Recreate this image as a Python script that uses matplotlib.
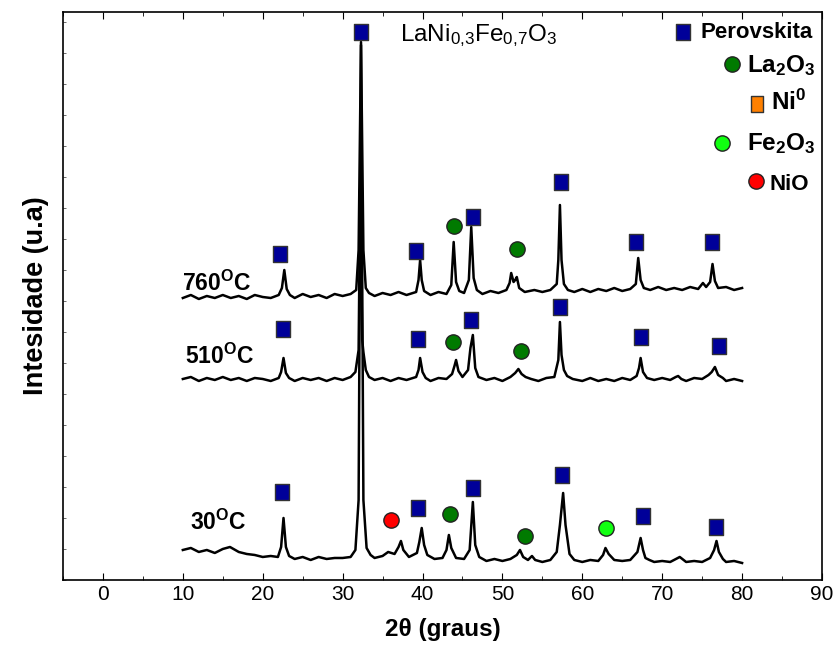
import matplotlib
matplotlib.use("Agg")
import matplotlib.pyplot as plt
from matplotlib.path import Path
from matplotlib.ticker import MultipleLocator

plt.rcParams['font.family'] = ['Liberation Sans', 'DejaVu Sans']
plt.rcParams['mathtext.fontset'] = 'custom'
plt.rcParams['mathtext.rm'] = 'Liberation Sans'
plt.rcParams['mathtext.bf'] = 'Liberation Sans:bold'
plt.rcParams['mathtext.it'] = 'Liberation Sans:italic'

# 2theta (graus) / intensidade (u.a, already stacked)
x_760 = [10, 11, 12, 13, 14, 15, 16, 17, 18, 19, 20, 21, 22.0, 22.4, 22.7, 23.0, 23.4,
         24, 25, 26, 27, 28, 29, 30, 31, 31.7, 32.0, 32.3, 32.6, 32.9, 33.3,
         34, 35, 36, 37, 38, 39.2, 39.5, 39.7, 39.9, 40.2,
         41, 42, 43, 43.6, 43.9, 44.2, 44.6, 45.2, 45.8, 46.1, 46.4, 46.8,
         47.5, 48.5, 49.5, 50.5, 50.9, 51.1, 51.4, 51.6, 51.8, 52.1, 52.8,
         54, 55, 56, 56.8, 57.0, 57.2, 57.4, 57.7, 58.2,
         59, 60, 61, 62, 63, 64, 65, 66, 66.7, 67.0, 67.3, 67.7,
         68.5, 69.5, 70.5, 71.5, 72.5, 73.5, 74.5, 75.1, 75.5, 76.0, 76.3, 76.6, 77,
         78, 79, 80]
y_760 = [282, 285, 281, 284, 282, 285, 282, 284, 281, 285, 283, 282, 285, 292, 310, 291, 285,
         282, 286, 283, 285, 282, 286, 284, 286, 290, 330, 538, 330, 292, 287,
         284, 287, 285, 288, 285, 288, 300, 320, 300, 289,
         285, 288, 286, 295, 338, 298, 289, 287, 300, 353, 302, 290,
         286, 289, 287, 290, 297, 307, 298, 300, 303, 292, 288,
         290, 288, 290, 296, 320, 375, 320, 296, 290,
         288, 291, 288, 291, 289, 292, 289, 291, 296, 322, 300, 292,
         290, 293, 290, 292, 290, 293, 291, 297, 293, 298, 316, 299, 292,
         293, 290, 292]

x_510 = [10, 11, 12, 13, 14, 15, 16, 17, 18, 19, 20, 21, 22.0, 22.3, 22.6, 22.9, 23.3,
         24, 25, 26, 27, 28, 29, 30, 31, 31.6, 32.0, 32.2, 32.45, 32.6, 32.9, 33.3,
         34, 35, 36, 37, 38, 39.2, 39.5, 39.7, 40.0, 40.4,
         41, 42, 43, 43.7, 44.0, 44.2, 44.5, 45.0, 45.7, 46.0, 46.3, 46.6, 47.0,
         48, 49, 50, 51, 51.6, 52.0, 52.4, 52.9, 53.6,
         54.5, 55.5, 56.5, 57.0, 57.2, 57.4, 57.7, 58.1, 58.8,
         60, 61, 62, 63, 64, 65, 66, 66.8, 67.1, 67.3, 67.6, 68.1,
         69, 70, 71, 71.7, 72.0, 72.4, 73, 74, 75, 75.8, 76.2, 76.6, 77.0, 77.6,
         78, 79, 80]
y_510 = [201, 203, 199, 202, 200, 203, 200, 202, 199, 202, 201, 199, 202, 208, 222, 207, 202,
         199, 202, 200, 202, 199, 202, 200, 203, 208, 230, 390, 240, 228, 210, 203,
         200, 202, 199, 202, 200, 203, 210, 222, 208, 202,
         199, 202, 201, 206, 214, 220, 209, 203, 210, 232, 245, 212, 203,
         200, 202, 199, 203, 207, 211, 206, 203, 201,
         199, 202, 203, 220, 258, 225, 210, 204, 201,
         199, 202, 199, 201, 199, 202, 200, 204, 212, 222, 208, 202,
         200, 202, 200, 203, 204, 201, 199, 202, 201, 205, 208, 213, 205, 202,
         199, 201, 199]

x_30 = [10, 11, 12, 13, 14, 15, 15.9, 17, 18, 19, 20, 21, 21.9, 22.3, 22.6, 22.9, 23.3,
        24, 25, 26, 27, 28, 29, 30, 31, 31.6, 32.0, 32.3, 32.6, 33.0, 33.5,
        34, 35, 35.7, 36.5, 37.0, 37.3, 37.6, 38.3, 39.3, 39.6, 39.9, 40.2, 40.6,
        41.5, 42.5, 43.0, 43.3, 43.6, 44.2, 45.2, 45.9, 46.3, 46.6, 47.1,
        48, 49, 50, 51, 51.8, 52.2, 52.6, 53.2, 53.7, 54.1,
        55, 56, 56.8, 57.2, 57.6, 57.9, 58.4, 59,
        60, 61, 62, 62.6, 62.9, 63.3, 64, 65, 66, 66.9, 67.3, 67.6, 67.9, 68.4,
        69, 70, 71, 72.2, 73, 74, 75, 76.0, 76.5, 76.8, 77.1, 77.6,
        78, 79, 80]
y_30 = [30, 32, 28, 30, 27, 31, 33, 28, 26, 25, 23, 24, 23, 33, 62, 33, 24,
        21, 23, 20, 23, 21, 22, 22, 23, 30, 80, 535, 80, 32, 25,
        22, 24, 28, 26, 33, 39, 30, 23, 27, 38, 52, 35, 25,
        21, 22, 30, 45, 32, 22, 21, 30, 78, 35, 23,
        19, 21, 19, 21, 25, 30, 23, 20, 24, 20,
        18, 20, 28, 55, 87, 55, 26, 20,
        18, 20, 19, 25, 32, 26, 20, 19, 20, 28, 42, 30, 22, 20,
        18, 19, 18, 23, 18, 19, 18, 22, 30, 39, 28, 21,
        18, 19, 17]

temp_labels = ['760$^{\\mathbf{O}}$C', '510$^{\\mathbf{O}}$C', '30$^{\\mathbf{O}}$C']
temp_pos = [(9.9, 297), (10.3, 224), (10.9, 58)]

# phase markers (2theta, intensity)
perov_x = [22.2, 32.3, 39.2, 46.3, 57.3, 66.7, 76.2,
           22.5, 39.4, 46.1, 57.2, 67.3, 77.1,
           22.4, 39.4, 46.3, 57.4, 67.6, 76.7]
perov_y = [326, 548, 329, 363, 398, 338, 338,
           251, 241, 260, 273, 243, 234,
           88, 72, 92, 105, 64, 53]
la2o3_x = [43.9, 51.8, 43.8, 52.3, 43.4, 52.8]
la2o3_y = [354, 331, 238, 229, 66, 44]
fe2o3_x = [63.0]
fe2o3_y = [52]
nio_x = [36.0]
nio_y = [60]

legend_names = ['Perovskita', 'La$_\\mathbf{2}$O$_\\mathbf{3}$', 'Ni$^\\mathbf{0}$',
                'Fe$_\\mathbf{2}$O$_\\mathbf{3}$', 'NiO']

blue = '#000099'
green = '#007a00'
lime = '#11ff11'
red = '#ff0000'
orange = '#ff8000'
rect = Path([(-0.4, -0.5), (0.4, -0.5), (0.4, 0.5), (-0.4, 0.5), (-0.4, -0.5)],
            [Path.MOVETO, Path.LINETO, Path.LINETO, Path.LINETO, Path.CLOSEPOLY])

fig = plt.figure(figsize=(8.39, 6.46), dpi=100)
ax = fig.add_axes([0.0751, 0.1022, 0.9046, 0.8792])

for xs, ys in [(x_760, y_760), (x_510, y_510), (x_30, y_30)]:
    ax.plot(xs, ys, color='black', lw=1.8, zorder=2)

sq = dict(marker=rect, markersize=12, markerfacecolor=blue, markeredgecolor='#333333',
          markeredgewidth=1.0, linestyle='none', zorder=3)
ci = dict(marker='o', markersize=11, markeredgecolor='#222222', markeredgewidth=1.0,
          linestyle='none', zorder=3)
ax.plot(perov_x, perov_y, **sq)
ax.plot(la2o3_x, la2o3_y, markerfacecolor=green, **ci)
ax.plot(fe2o3_x, fe2o3_y, markerfacecolor=lime, **ci)
ax.plot(nio_x, nio_y, markerfacecolor=red, **ci)

# legend drawn by hand like the original
ax.plot([72.6], [548], **sq)
ax.plot([78.7], [516], markerfacecolor=green, **ci)
ax.plot([81.9], [476], **dict(sq, markerfacecolor=orange, markersize=11))
ax.plot([77.5], [437], markerfacecolor=lime, **ci)
ax.plot([81.7], [399], markerfacecolor=red, **ci)
leg_pos = [(74.8, 548), (80.6, 514), (83.6, 478), (80.6, 436), (83.4, 396)]
leg_size = [16, 17.5, 17.5, 17.5, 16]
for name, (lx, ly), fs in zip(legend_names, leg_pos, leg_size):
    ax.text(lx, ly, name, fontsize=fs, fontweight='bold', va='center', ha='left')

ax.text(37.2, 544, 'LaNi$_{0{,}3}$Fe$_{0{,}7}$O$_3$', fontsize=17.5, va='center', ha='left')

for lab, (tx, ty) in zip(temp_labels, temp_pos):
    ax.text(tx, ty, lab, fontsize=16.5, fontweight='bold', va='center', ha='left')

ax.set_xlim(-5, 90)
ax.set_ylim(0, 568)
ax.xaxis.set_major_locator(MultipleLocator(10))
ax.xaxis.set_minor_locator(MultipleLocator(5))
ax.yaxis.set_major_locator(MultipleLocator(31))
ax.tick_params(axis='x', which='both', direction='in', top=True, labelsize=15)
ax.tick_params(axis='x', which='major', length=5)
ax.tick_params(axis='x', which='minor', length=3)
ax.tick_params(axis='y', which='both', direction='in', length=2, width=0.6,
               color='#555555', labelleft=False)
for lab in ax.get_xticklabels():
    lab.set_family(['Liberation Sans Narrow', 'Liberation Sans'])
for sp in ax.spines.values():
    sp.set_linewidth(1.2)

ax.set_xlabel('2θ (graus)', fontsize=17.5, fontweight='bold', labelpad=10)
ax.set_ylabel('Intesidade (u.a)', fontsize=19.5, fontweight='bold', labelpad=10)

fig.savefig('out.png', dpi=100)
